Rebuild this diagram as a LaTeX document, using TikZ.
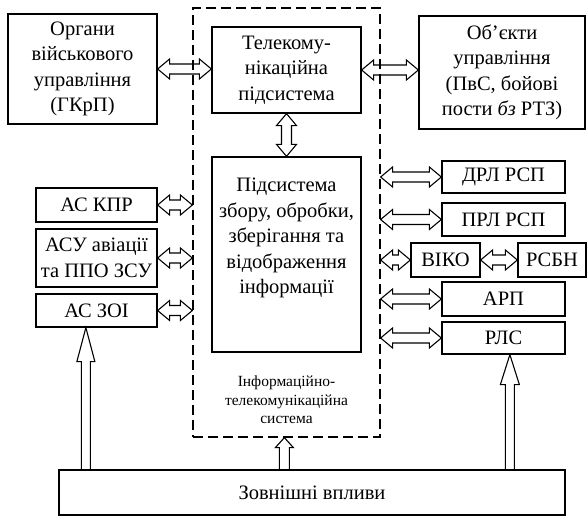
\documentclass[tikz,border=0pt]{standalone}
\usepackage{fontspec}
\setmainfont{Liberation Serif}
\usetikzlibrary{calc}
\tikzset{
  box/.style={draw, line width=1.25pt, rectangle, inner sep=1pt, align=center,
    font=\fontsize{20.5}{25.5}\selectfont},
  itsbox/.style={draw, line width=1.25pt, rectangle, dash pattern=on 10pt off 5pt},
  smalltext/.style={align=center, font=\fontsize{15.5}{18.5}\selectfont},
  arr/.style={draw, line width=1.1pt, line join=miter},
}
% horizontal double arrow between two points (same height)
\newcommand\harrow[2]{\draw[arr] let \p1=#1, \p2=#2 in
  (\x1,\y1) -- (\x1+12pt,\y1+10pt) -- (\x1+12pt,\y1+5pt) -- (\x2-12pt,\y1+5pt)
  -- (\x2-12pt,\y1+10pt) -- (\x2,\y1) -- (\x2-12pt,\y1-10pt) -- (\x2-12pt,\y1-5pt)
  -- (\x1+12pt,\y1-5pt) -- (\x1+12pt,\y1-10pt) -- cycle;}
% vertical double arrow, #1 upper point, #2 lower point
\newcommand\varrow[2]{\draw[arr] let \p1=#1, \p2=#2 in
  (\x1,\y1) -- (\x1+10pt,\y1-12pt) -- (\x1+5pt,\y1-12pt) -- (\x1+5pt,\y2+12pt)
  -- (\x1+10pt,\y2+12pt) -- (\x1,\y2) -- (\x1-10pt,\y2+12pt) -- (\x1-5pt,\y2+12pt)
  -- (\x1-5pt,\y1-12pt) -- (\x1-10pt,\y1-12pt) -- cycle;}
% single upward block arrow: #1 bottom, #2 tip, #3 head length, #4 head half width, #5 shaft half width
\newcommand\blockup[5]{\draw[arr] let \p1=#1, \p2=#2 in
  (\x2-#5,\y1) -- (\x2-#5,\y2-#3) -- (\x2-#4,\y2-#3) -- (\x2,\y2)
  -- (\x2+#4,\y2-#3) -- (\x2+#5,\y2-#3) -- (\x2+#5,\y1);}
\begin{document}
\begin{tikzpicture}[x=1pt, y=-1pt]
\useasboundingbox (0,0) rectangle (587,516);

\node[itsbox, minimum width=187pt, minimum height=429pt] (its) at (286.5,222.5) {};
\node[smalltext] (itslabel) at (286.5,400) {Інформаційно-\\телекомунікаційна\\система};

\node[box, minimum width=149pt, minimum height=110pt] (org) at (82.5,69)
  {Органи\\військового\\управління\\(ГКрП)};
\node[box, minimum width=149pt, minimum height=86pt] (tel) at (286.5,70)
  {Телекому-\\нікаційна\\підсистема};
\node[box, minimum width=166pt, minimum height=113pt] (obj) at (502,72.5)
  {Об’єкти\\управління\\(ПвС, бойові\\пости \textit{бз} РТЗ)};
\node[box, minimum width=149pt, minimum height=195pt] (pid) at (286.5,254.5)
  {Підсистема\\збору, обробки,\\зберігання та\\відображення\\інформації\\[12pt]};

\node[box, minimum width=121pt, minimum height=34pt] (kpr) at (96.5,205) {АС КПР};
\node[box, minimum width=121pt, minimum height=58pt] (asu) at (96.5,258) {АСУ авіації\\та ППО ЗСУ};
\node[box, minimum width=121pt, minimum height=33pt] (zoi) at (96.5,310.5) {АС ЗОІ};

\node[box, minimum width=123pt, minimum height=32pt] (drl) at (503.5,177) {ДРЛ РСП};
\node[box, minimum width=123pt, minimum height=33pt] (prl) at (503.5,219.5) {ПРЛ РСП};
\node[box, minimum width=69pt, minimum height=34pt] (viko) at (445.5,260) {ВІКО};
\node[box, minimum width=68pt, minimum height=34pt] (rsbn) at (552,260) {РСБН};
\node[box, minimum width=123pt, minimum height=34pt] (arp) at (503.5,299) {АРП};
\node[box, minimum width=123pt, minimum height=32pt] (rls) at (503.5,338) {РЛС};

\node[box, minimum width=506pt, minimum height=45pt] (zov) at (312,492.5) {Зовнішні впливи};

% double arrows
\harrow{(org.east)}{(tel.west |- org.east)}
\harrow{(tel.east)}{(obj.west |- tel.east)}
\varrow{(tel.south)}{(pid.north)}

\harrow{(kpr.east)}{(kpr.east -| its.west)}
\harrow{(asu.east)}{(asu.east -| its.west)}
\harrow{(zoi.east)}{(zoi.east -| its.west)}

\harrow{(drl.west -| its.east)}{(drl.west)}
\harrow{(prl.west -| its.east)}{(prl.west)}
\harrow{(viko.west -| its.east)}{(viko.west)}
\harrow{(viko.east)}{(rsbn.west)}
\harrow{(arp.west -| its.east)}{(arp.west)}
\harrow{(rls.west -| its.east)}{(rls.west)}

% external influences
\blockup{($(zov.north west)+(27.5,0)$)}{($(zoi.south west)+(50.5,0)$)}{34pt}{9pt}{4.5pt}
\blockup{($(zov.north west)+(451.5,0)$)}{($(rls.south west)+(68.5,0)$)}{30pt}{9.5pt}{4.5pt}
\blockup{($(zov.north west)+(226,0)$)}{($(its.south west)+(92,0)$)}{10pt}{9pt}{5pt}
\end{tikzpicture}
\end{document}
